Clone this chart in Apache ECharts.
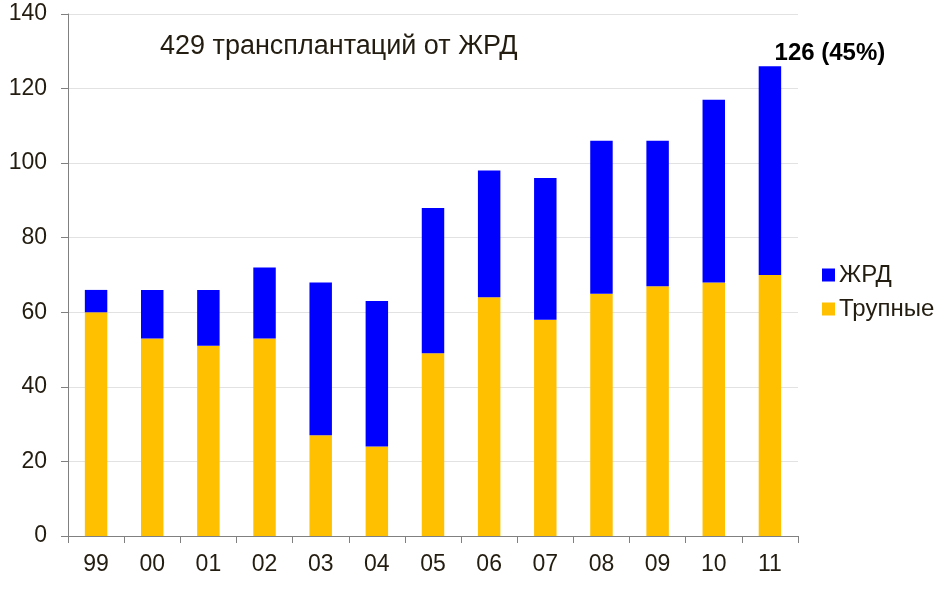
<!DOCTYPE html>
<html><head><meta charset="utf-8">
<script src="https://cdn.jsdelivr.net/npm/echarts@6/dist/echarts.min.js"></script>
<style>html,body{margin:0;padding:0;background:#fff}#c{width:937px;height:596px}</style>
</head><body><div id="c"></div>
<script>
const categories = ['99','00','01','02','03','04','05','06','07','08','09','10','11'];
const cadaveric = [60,53,51,53,27,24,49,64,58,65,67,68,70];
const living = [6,13,15,19,41,39,39,34,38,41,39,49,56];
const titleText = '429 трансплантаций от ЖРД';
const lastLabel = '126 (45%)';
const seriesNames = ['ЖРД','Трупные'];

const font = 'Liberation Sans, Arial, sans-serif';
const txt = '#231c10';
const chart = echarts.init(document.getElementById('c'));
chart.setOption({
  animation:false,
  textStyle:{fontFamily:font},
  grid:{left:68,right:139,top:14,bottom:60},
  graphic:[{type:'text',left:160,top:33,style:{text:titleText,font:'27px '+font,fill:txt}}],
  legend:{data:[seriesNames[0],seriesNames[1]],orient:'vertical',left:817,top:258,itemWidth:13,itemHeight:13,itemGap:10,icon:'rect',
    textStyle:{fontSize:24,color:txt,fontFamily:font,padding:[0,0,0,-1]}},
  xAxis:{type:'category',data:categories,
    axisLine:{lineStyle:{color:'#808080'}},
    axisTick:{show:true,length:7,lineStyle:{color:'#808080'}},
    axisLabel:{fontSize:23,color:txt,margin:17,fontFamily:font}},
  yAxis:{type:'value',min:0,max:140,interval:20,
    axisLine:{show:true,lineStyle:{color:'#808080'}},
    axisTick:{show:true,length:7,lineStyle:{color:'#808080'}},
    splitLine:{lineStyle:{color:'#e2e2e2'}},
    axisLabel:{fontSize:23,color:txt,margin:21,fontFamily:font}},
  series:[
    {name:seriesNames[1],type:'bar',stack:'a',data:cadaveric,barWidth:'40%',itemStyle:{color:'#ffc000'}},
    {name:seriesNames[0],type:'bar',stack:'a',barWidth:'40%',itemStyle:{color:'#0000ff'},
     data:living.map((v,i)=> i===living.length-1 ? {value:v,label:{show:true,position:'top',formatter:lastLabel,offset:[60,4],fontSize:24,fontWeight:'bold',color:'#000',fontFamily:font}} : v)}
  ]
});
</script></body></html>
